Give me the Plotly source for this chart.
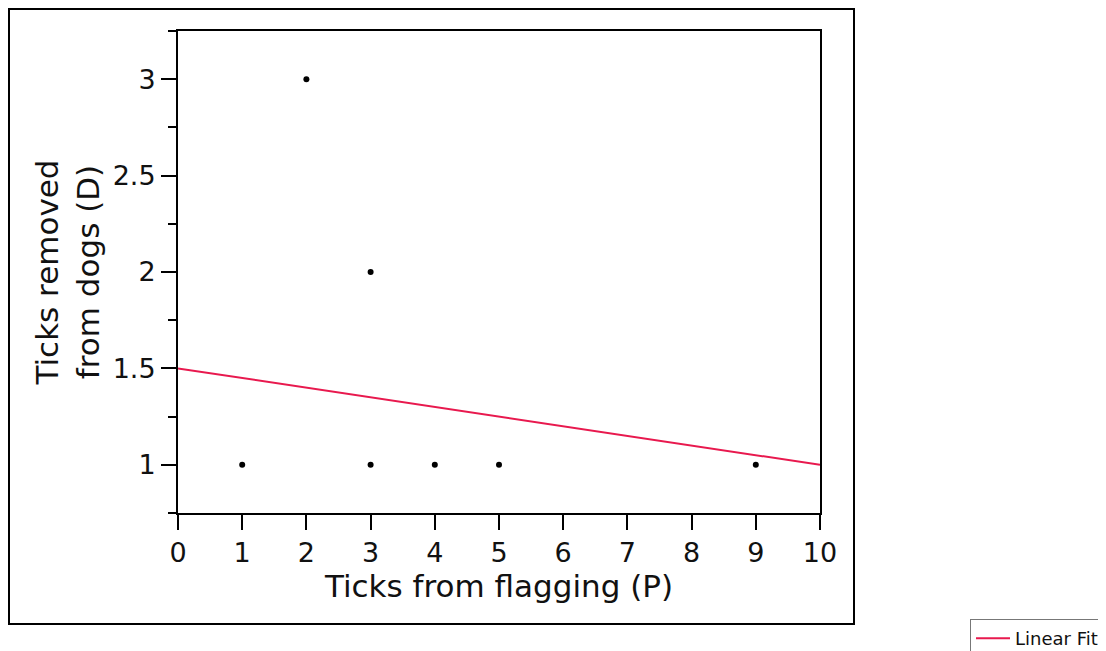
import plotly.graph_objects as go

# Data
x_obs = [1, 2, 3, 3, 4, 5, 9]
y_obs = [1, 3, 2, 1, 1, 1, 1]
fit_x = [0, 10]
fit_y = [1.5, 1.0]
x_ticks = [0, 1, 2, 3, 4, 5, 6, 7, 8, 9, 10]
y_ticks = [1, 1.5, 2, 2.5, 3]
y_tick_labels = ["1", "1.5", "2", "2.5", "3"]

FONT = "DejaVu Sans"
OFF = 8  # page body margin
W, H = 1106 - OFF, 651 - OFF
# plot area in page pixels: x 178..820, y 31..513
L = 178 - OFF
T = 31 - OFF
R = W - (820 - OFF)
B = H - (513 - OFF)
pw, ph = W - L - R, H - T - B


def px2x(px):
    return (px - OFF - L) / pw


def px2y(py):
    return (H - B - (py - OFF)) / ph


fig = go.Figure()
fig.add_trace(go.Scatter(
    x=fit_x, y=fit_y, mode="lines", name="Linear Fit",
    line=dict(color="#E8194E", width=2), showlegend=True,
))
fig.add_trace(go.Scatter(
    x=x_obs, y=y_obs, mode="markers", name="Data",
    marker=dict(color="black", size=6), showlegend=False,
))

fig.update_layout(
    width=W, height=H,
    margin=dict(l=L, r=R, t=T, b=B, autoexpand=False),
    paper_bgcolor="white", plot_bgcolor="white",
    font=dict(family=FONT, color="#111111"),
    showlegend=True,
    legend=dict(
        x=px2x(970), y=px2y(619), xanchor="left", yanchor="top",
        bordercolor="#777777", borderwidth=1, bgcolor="white",
        itemwidth=34,
        font=dict(size=18, family=FONT, color="#111111"),
    ),
    xaxis=dict(
        range=[0, 10], tickmode="array", tickvals=x_ticks,
        ticktext=[str(v) for v in x_ticks],
        ticks="outside", ticklen=15, tickwidth=2, tickcolor="black",
        showline=True, linewidth=2, linecolor="black", mirror=True,
        showgrid=False, zeroline=False,
        tickfont=dict(size=27, family=FONT, color="#111111"),
        title=dict(text="Ticks from flagging (P)", standoff=6,
                   font=dict(size=31, family=FONT, color="#111111")),
    ),
    yaxis=dict(
        range=[0.75, 3.25], tickmode="array", tickvals=y_ticks,
        ticktext=y_tick_labels,
        ticks="outside", ticklen=15, tickwidth=2, tickcolor="black",
        minor=dict(dtick=0.25, tick0=0.75, ticks="outside", ticklen=8,
                   tickwidth=2, tickcolor="black", showgrid=False),
        showline=True, linewidth=2, linecolor="black", mirror=True,
        showgrid=False, zeroline=False,
        tickfont=dict(size=27, family=FONT, color="#111111"),
        title=dict(text="Ticks removed<br>from dogs (D)", standoff=4,
                   font=dict(size=31, family=FONT, color="#111111")),
    ),
    shapes=[dict(
        type="rect", xref="paper", yref="paper",
        x0=px2x(9), x1=px2x(854), y0=px2y(624), y1=px2y(OFF + 1),
        line=dict(color="black", width=2), layer="below",
    )],
)

fig.write_html("out.html")
